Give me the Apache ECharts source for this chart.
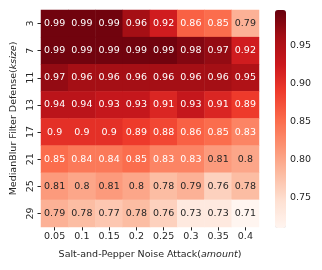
<!DOCTYPE html>
<html><head><meta charset="utf-8">
<script src="https://cdn.jsdelivr.net/npm/echarts@6/dist/echarts.min.js"></script>
<style>html,body{margin:0;padding:0;background:#fff}#c{width:322px;height:270px}</style>
</head><body><div id="c"></div>
<script>
var xCategories = ['0.05','0.1','0.15','0.2','0.25','0.3','0.35','0.4'];
var yCategories = ['3','7','11','13','17','21','25','29'];
var row3  = [0.99,0.99,0.99,0.96,0.92,0.86,0.85,0.79];
var row7  = [0.99,0.99,0.99,0.99,0.99,0.98,0.97,0.92];
var row11 = [0.97,0.96,0.96,0.96,0.96,0.96,0.96,0.95];
var row13 = [0.94,0.94,0.93,0.93,0.91,0.93,0.91,0.89];
var row17 = [0.9,0.9,0.9,0.89,0.88,0.86,0.85,0.83];
var row21 = [0.85,0.84,0.84,0.85,0.83,0.83,0.81,0.8];
var row25 = [0.81,0.8,0.81,0.8,0.78,0.79,0.76,0.78];
var row29 = [0.79,0.78,0.77,0.78,0.76,0.73,0.73,0.71];
var rows = [row3,row7,row11,row13,row17,row21,row25,row29];
var colorbarTicks = [0.75,0.80,0.85,0.90,0.95];
var vmin = 0.71, vmax = 0.996;
var reds = ['#fff5f0','#fee0d2','#fcbba1','#fc9272','#fb6a4a','#ef3b2c','#cb181d','#a50f15','#67000d'];

var data = [];
rows.forEach(function(r, yi){ r.forEach(function(v, xi){
  data.push({value:[xi, yi, v], label:{color: v <= 0.815 ? '#262626' : '#ffffff'}});
});});

var font = 'DejaVu Sans';
var fs = 9.5;
var chart = echarts.init(document.getElementById('c'));
chart.setOption({
  animation:false,
  textStyle:{fontFamily:font},
  grid:[{left:41, top:10, width:218, height:217},
        {left:275, top:10, width:11, height:218}],
  xAxis:[{type:'category', data:xCategories, gridIndex:0,
    axisLine:{show:false}, axisTick:{show:true, alignWithLabel:true, interval:0, length:3.5, lineStyle:{color:'#262626'}},
    axisLabel:{color:'#262626', fontSize:fs, fontFamily:font, margin:5, interval:0},
    splitArea:{show:false}, splitLine:{show:false},
    name:'Salt-and-Pepper Noise Attack({i|amount})', nameLocation:'middle', nameGap:23,
    nameTextStyle:{color:'#262626', fontSize:fs, fontFamily:font, rich:{i:{fontStyle:'italic', fontSize:fs, fontFamily:font, color:'#262626'}}}},
    {type:'value', gridIndex:1, show:false}],
  yAxis:[{type:'category', data:yCategories, inverse:true, gridIndex:0,
    axisLine:{show:false}, axisTick:{show:true, alignWithLabel:true, interval:0, length:3.5, lineStyle:{color:'#262626'}},
    axisLabel:{color:'#262626', fontSize:fs, fontFamily:font, rotate:90, margin:5, interval:0},
    splitArea:{show:false}, splitLine:{show:false},
    name:'MedianBlur Filter Defense({i|ksize})', nameLocation:'middle', nameGap:22, nameRotate:90,
    nameTextStyle:{color:'#262626', fontSize:fs, fontFamily:font, rich:{i:{fontStyle:'italic', fontSize:fs, fontFamily:font, color:'#262626'}}}},
    {type:'value', gridIndex:1, position:'right', min:vmin, max:vmax,
    axisLine:{show:false}, splitLine:{show:false},
    axisTick:{show:true, length:3.5, lineStyle:{color:'#262626'}, customValues:colorbarTicks},
    axisLabel:{color:'#262626', fontSize:fs, fontFamily:font, margin:4, customValues:colorbarTicks,
      formatter:function(v){return v.toFixed(2);}}}],
  visualMap:{type:'continuous', min:vmin, max:vmax, seriesIndex:0, show:true, calculable:false,
    left:275, top:10, itemWidth:11, itemHeight:218, padding:0, text:null, showLabel:false,
    inRange:{color:reds}},
  series:[{type:'heatmap', xAxisIndex:0, yAxisIndex:0, data:data,
    label:{show:true, fontSize:fs, fontFamily:font, formatter:function(p){return String(p.value[2]);}},
    itemStyle:{borderWidth:0}, emphasis:{disabled:true}}]
});
</script></body></html>
